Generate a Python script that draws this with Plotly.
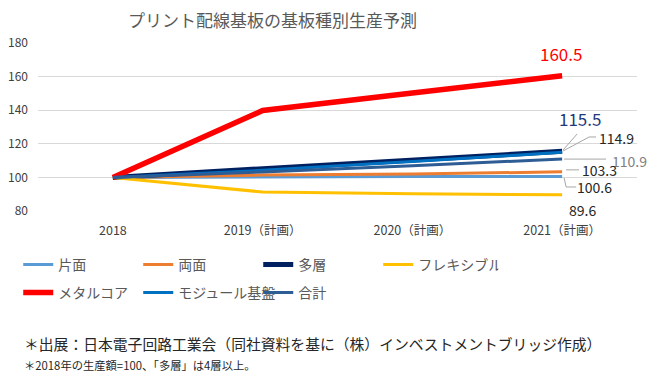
import plotly.graph_objects as go

categories = ["2018", "2019（計画）", "2020（計画）", "2021（計画）"]
series_names = ["片面", "両面", "多層", "フレキシブル", "メタルコア", "モジュール基盤", "合計"]
katamen = [100, 100.4, 100.5, 100.6]
ryomen = [100, 101.4, 102.0, 103.3]
taso = [100, 105.3, 110.4, 115.5]
flexible = [100, 91.3, 90.2, 89.6]
metalcore = [100, 139.8, 150.2, 160.5]
module = [100, 104.2, 109.5, 114.9]
gokei = [100, 103.2, 107.0, 110.9]
y_ticks = [80, 100, 120, 140, 160, 180]

values = [katamen, ryomen, taso, flexible, metalcore, module, gokei]
colors = ["#5B9BD5", "#ED7D31", "#002060", "#FFC000", "#FF0000", "#0070C0", "#2E5C95"]
widths = [3, 3, 5, 3, 5.5, 3, 3]
legends = ["legend", "legend", "legend", "legend", "legend2", "legend2", "legend2"]

FONT = "Noto Sans CJK JP"
fig = go.Figure()
for name, vals, c, w, lg in zip(series_names, values, colors, widths, legends):
    fig.add_trace(go.Scatter(x=categories, y=vals, name=name, mode="lines",
                             line=dict(color=c, width=w), legend=lg))

# data labels (anchored to data points)
labels = [
    # (category idx, value, text, color, size, xshift, yshift)
    (0, 100, "100", "#262626", 16, 1, 17),
    (3, metalcore[3], "160.5", "#FF0000", 17, -1, 22),
    (3, taso[3], "115.5", "#1F3A7A", 17, 18, 33),
    (3, module[3], "114.9", "#262626", 14, 54, 14),
    (3, gokei[3], "110.9", "#7F7F7F", 14, 67, -2),
    (3, ryomen[3], "103.3", "#262626", 14, 37, 2),
    (3, katamen[3], "100.6", "#262626", 14, 32, -11),
    (3, flexible[3], "89.6", "#262626", 14, 20, -15),
]
for ci, v, t, c, s, xs, ys in labels:
    fig.add_annotation(x=categories[ci], y=v, xref="x", yref="y", text=t, showarrow=False,
                       xshift=xs, yshift=ys, font=dict(family=FONT, size=s, color=c))

# leader lines (pixel paths anchored at data points)
leaders = [
    (taso[3], "M 1 1.4 L 15 17.4"),
    (module[3], "M 1 1.4 L 27 15.4 L 34 15.4"),
    (gokei[3], "M 2 0 L 44 0"),
    (ryomen[3], "M 4 2 L 17 2"),
    (katamen[3], "M 2 -1.6 L 4 -10.6 L 14 -10.6"),
]
for v, p in leaders:
    fig.add_shape(type="path", xref="x", yref="y", xsizemode="pixel", ysizemode="pixel",
                  xanchor=categories[3], yanchor=v, path=p,
                  line=dict(color="#A6A6A6", width=1))

# footnotes
fig.add_annotation(xref="paper", yref="paper", x=-0.027, y=-0.786, xanchor="left", yanchor="middle",
                   text="＊出展：日本電子回路工業会（同社資料を基に（株）インベストメントブリッジ作成）",
                   showarrow=False, font=dict(family=FONT, size=14.8, color="#262626"))
fig.add_annotation(xref="paper", yref="paper", x=-0.027, y=-0.917, xanchor="left", yanchor="middle",
                   text="＊2018年の生産額=100、「多層」は4層以上。",
                   showarrow=False, font=dict(family=FONT, size=11.3, color="#262626"))

legend_common = dict(orientation="h", xanchor="left", yanchor="middle", entrywidth=75,
                     entrywidthmode="pixels", itemwidth=30, bgcolor="rgba(0,0,0,0)",
                     font=dict(family=FONT, size=14, color="#595959"), traceorder="normal")

# the page body adds an 8px offset; margins below compensate for it
fig.update_layout(
    width=661, height=380,
    margin=dict(l=30, r=32, t=35, b=177, autoexpand=False),
    paper_bgcolor="white", plot_bgcolor="white",
    title=dict(text="プリント配線基板の基板種別生産予測", x=0.40, xanchor="center", y=0.9645,
               yanchor="middle", font=dict(family=FONT, size=17, color="#595959")),
    font=dict(family=FONT, color="#595959"),
    xaxis=dict(type="category", range=[-0.5, 3.5], showgrid=False, showline=False, ticks="",
               tickfont=dict(family=FONT, size=12.5, color="#404040"), fixedrange=True,
               automargin=False, ticklabelstandoff=10),
    yaxis=dict(range=[80, 180], tickvals=y_ticks, showgrid=True, gridcolor="#D9D9D9", gridwidth=1,
               zeroline=False, showline=False, ticks="", ticklabelstandoff=9, automargin=False,
               tickfont=dict(family=FONT, size=12, color="#404040")),
    legend=dict(x=-0.033, y=-0.321, **legend_common),
    legend2=dict(x=-0.033, y=-0.488, **legend_common),
    showlegend=True,
)

fig.write_html("out.html")
